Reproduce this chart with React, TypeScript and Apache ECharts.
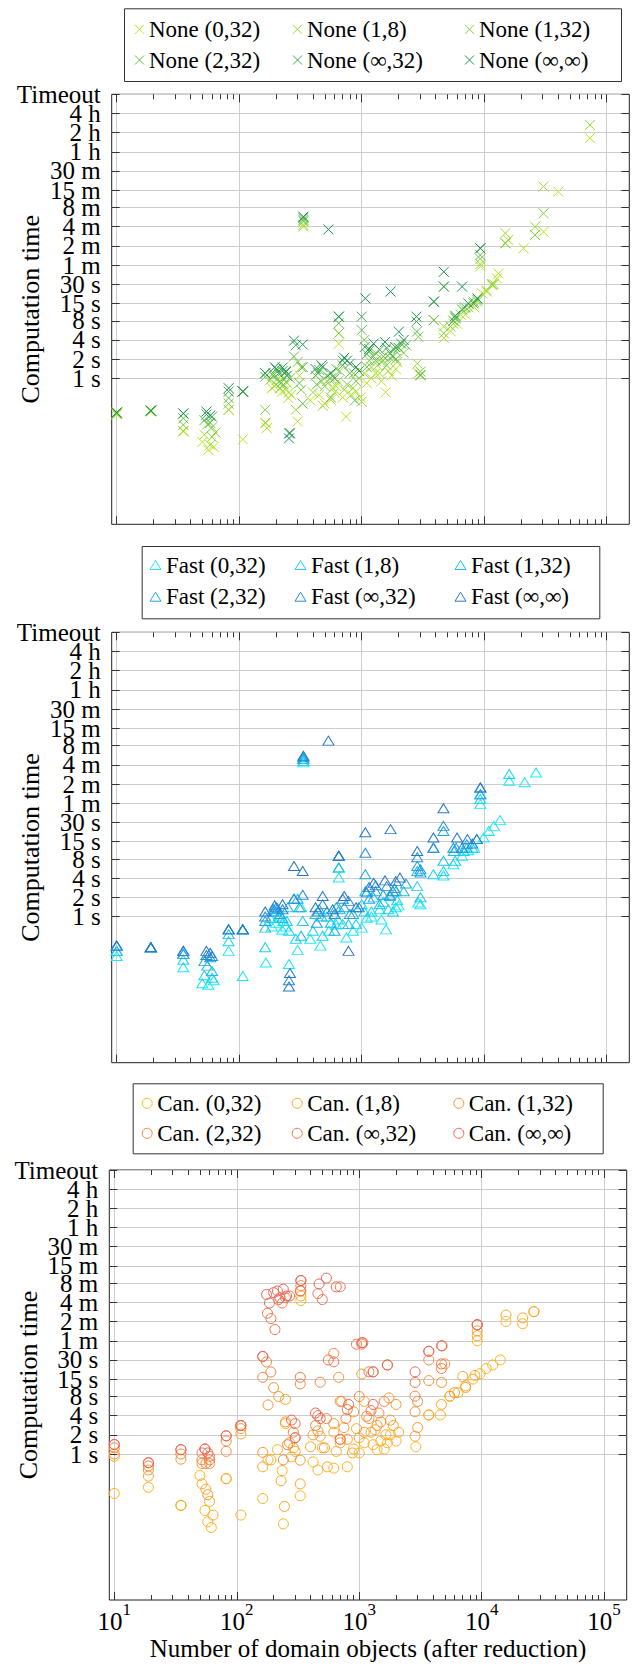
import React, { useEffect, useRef } from "react";
import * as echarts from "echarts";

const FONT = "Liberation Serif";

// ---- axis ticks / labels ----
const yTickValues = [1, 2, 4, 8, 15, 30, 60, 120, 240, 480, 900, 1800, 3600, 7200, 14400, 28800];
const yTickLabels = ["1 s", "2 s", "4 s", "8 s", "15 s", "30 s", "1 m", "2 m", "4 m", "8 m", "15 m", "30 m", "1 h", "2 h", "4 h", "Timeout"];
const xMajorTicks = [10, 100, 1000, 10000, 100000];
const xMinorTicks = [20, 30, 40, 50, 60, 70, 80, 90, 200, 300, 400, 500, 600, 700, 800, 900, 2000, 3000, 4000, 5000, 6000, 7000, 8000, 9000, 20000, 30000, 40000, 50000, 60000, 70000, 80000, 90000];
const configNames = ["(0,32)", "(1,8)", "(1,32)", "(2,32)", "(∞,32)", "(∞,∞)"];

const noneColors = ["#b5e61d", "#9bdc2f", "#7fd03e", "#5fbf49", "#3eab50", "#1e9252"];
const fastColors = ["#1de9f5", "#1ad4f0", "#19bfea", "#1fa9e2", "#2590d8", "#2a78cc"];
const canColors = ["#ffb21a", "#ffa41f", "#fb942e", "#f6843c", "#f1744a", "#ec6457"];

// ---- data: [domain objects, seconds] ----
const none032 = [[10,0.27],[19,0.3],[35,0.146],[50,0.1],[56,0.075],[62,0.084],[82,0.32],[107,0.11],[165,0.2],[168,0.165],[185,0.7],[195,0.75],[215,0.9],[225,0.62],[240,0.66],[252,0.49],[265,0.55],[300,0.21],[310,1.1],[334,240],[380,0.45],[450,0.55],[500,0.4],[560,0.46],[600,0.6],[620,0.75],[650,3.5],[700,0.5],[745,0.25],[820,0.55],[900,0.62],[980,0.5],[1100,0.84],[1200,1.0],[1300,1.2],[1450,0.9],[1570,0.6],[1750,1.1],[1900,1.4],[2900,1.2],[3020,1.1],[4680,4.3],[5300,5.5],[6000,7.2],[7000,10],[8300,13],[9300,57],[9600,21.6],[10500,24],[11600,29],[12700,37],[13100,44],[14900,132],[21000,110],[30500,200],[40300,855],[73000,5900]];
const none18 = [[10,0.28],[19,0.31],[35,0.15],[52,0.13],[60,0.12],[58,0.09],[82,0.32],[107,0.62],[163,0.2],[180,0.95],[200,0.8],[230,1.0],[245,0.85],[255,0.6],[290,0.32],[320,1.5],[334,255],[400,0.6],[480,0.37],[520,0.9],[580,0.7],[640,0.9],[650,5.1],[720,0.66],[850,0.7],[950,1.0],[1000,0.43],[1050,1.2],[1200,1.5],[1350,1.6],[1400,1.2],[1500,1.9],[1650,1.3],[1950,1.8],[2000,3.0],[2850,1.7],[3880,8.2],[4680,6.5],[5600,7.2],[6400,10],[7460,13],[8750,16],[9300,62],[10500,23],[12000,30],[14900,190],[15700,149],[26000,240],[30500,1024],[73000,9500]];
const none132 = [[10,0.28],[19,0.31],[35,0.185],[55,0.19],[60,0.17],[64,0.14],[82,0.4],[107,0.62],[163,0.32],[190,1.2],[202,0.94],[215,0.7],[230,0.79],[245,1.1],[300,1.8],[320,0.66],[334,290],[420,1.1],[470,0.9],[500,0.75],[560,1.0],[650,5.1],[660,1.3],[760,0.8],[860,1.2],[900,0.9],[1050,4],[1150,1.9],[1250,2.2],[1300,2.5],[1450,1.8],[1600,1.6],[1700,2.1],[1900,2.0],[2200,2.5],[2900,4.5],[3020,1.27],[4680,5.1],[5300,6.5],[5800,8.7],[6800,12.6],[8200,16],[9300,75],[11600,30],[14900,132],[26000,178],[30500,390]];
const none232 = [[10,0.29],[19,0.31],[35,0.235],[52,0.22],[58,0.2],[82,0.49],[107,0.62],[163,1.06],[190,1.1],[205,1.35],[220,0.85],[240,1.3],[260,1.0],[280,2.2],[310,0.84],[330,0.4],[334,306],[430,0.8],[450,1.35],[520,1.1],[560,0.5],[620,1.4],[650,7.3],[700,1.6],[800,1.2],[880,0.45],[1000,5.7],[1100,1.5],[1150,2.7],[1300,1.9],[1500,2.2],[1700,2.5],[1850,2.8],[2010,3.0],[2300,3.3],[2820,5.4],[3880,8.2],[4680,27.5],[5800,9],[7000,13],[8800,17],[9300,86]];
const noneInf32 = [[10,0.29],[19,0.31],[35,0.28],[54,0.27],[60,0.25],[82,0.62],[107,0.62],[163,1.2],[200,1.4],[210,1.2],[226,1.3],[245,1.1],[255,0.137],[290,3.3],[330,1.5],[334,330],[440,1.2],[480,1.5],[600,1.0],[650,9.3],[700,1.9],[800,1.7],[950,1.3],[1000,9.3],[1060,3.1],[1100,2.4],[1400,2.8],[1600,3.0],[1800,2.2],[2100,3.5],[2800,7.8],[3020,1.13],[3880,16],[4680,27.5],[5600,8.0],[6600,12],[8200,15],[9300,110]];
const noneInfInf = [[10,0.29],[19,0.31],[35,0.28],[54,0.3],[58,0.26],[82,0.7],[107,0.62],[163,1.2],[195,1.5],[226,1.47],[240,1.25],[255,0.114],[260,0.137],[280,3.9],[330,3.4],[334,345],[420,1.4],[535,218],[470,1.6],[560,1.2],[650,9.3],[720,2.1],[760,1.9],[900,1.5],[1070,18],[1150,2.9],[1250,3.5],[1550,3.7],[1720,23],[1880,3.1],[2010,5.4],[2200,4.0],[2800,9.3],[3880,16],[4680,47],[6600,27.5],[5800,9.6],[7400,15],[9300,110],[8800,18]];

const fast032 = [[10,0.24],[19,0.33],[35,0.16],[50,0.09],[56,0.085],[62,0.1],[82,0.29],[107,0.117],[165,0.19],[185,0.7],[200,0.8],[225,0.62],[240,0.7],[255,0.18],[300,0.3],[320,1.4],[334,262],[380,0.45],[460,0.35],[540,0.6],[620,0.75],[650,4.1],[750,0.47],[850,0.6],[1000,0.67],[1100,0.96],[1200,1.0],[1450,0.9],[1580,0.63],[1400,1.3],[1900,1.4],[2000,1.5],[2900,1.66],[3020,1.56],[4650,4.4],[5600,6.6],[6600,9],[7400,11],[8300,12],[9300,58],[9900,17.4],[10900,22],[12000,26.5],[13500,32.6],[16000,135],[21400,128],[26500,182]];
const fast18 = [[10,0.29],[19,0.33],[35,0.21],[52,0.12],[60,0.11],[82,0.41],[107,0.63],[163,0.33],[180,0.95],[210,1.0],[230,0.85],[245,0.85],[255,0.6],[290,0.45],[330,0.85],[334,275],[400,0.6],[480,0.5],[520,1.0],[640,0.9],[650,5.9],[700,0.76],[900,0.76],[1000,1.56],[1050,1.2],[1200,1.2],[1500,1.7],[1650,1.3],[1800,1.2],[1950,1.8],[2840,3.0],[3850,4.6],[4650,5.2],[5800,7.5],[6800,10.7],[8000,12],[9300,70],[16000,172]];
const fast132 = [[10,0.29],[19,0.33],[35,0.26],[55,0.17],[60,0.14],[82,0.53],[107,0.63],[163,0.67],[190,1.2],[200,1.2],[225,0.95],[250,1.4],[300,1.9],[320,0.5],[334,295],[420,1.1],[470,1.0],[560,0.8],[650,5.9],[660,1.3],[780,0.76],[850,1.1],[1070,2.5],[1250,2.0],[1400,1.56],[1700,2.1],[1900,2.5],[2200,2.5],[2840,5.2],[3020,2.0],[4650,7.5],[5650,10.7],[7200,12],[9300,83]];
const fast232 = [[10,0.35],[19,0.33],[35,0.26],[52,0.2],[58,0.23],[82,0.63],[107,0.63],[163,0.85],[190,1.3],[205,1.35],[215,1.1],[280,1.9],[310,1.4],[334,300],[430,0.8],[450,1.3],[520,1.2],[600,0.6],[620,1.4],[650,9.0],[720,1.4],[800,1.1],[1070,4.6],[1150,1.9],[1300,2.5],[1500,2.2],[1700,2.2],[1850,2.8],[2300,3.3],[2840,6.2],[3020,4.9],[3850,12],[4650,22],[5900,12],[7200,13.6],[8700,16.4],[9300,83]];
const fastInf32 = [[10,0.35],[19,0.33],[35,0.29],[54,0.25],[60,0.24],[82,0.63],[107,0.63],[163,1.0],[200,1.4],[226,1.3],[255,0.1],[280,1.9],[330,2.2],[334,320],[440,1.2],[480,1.56],[600,1.1],[650,9.0],[700,1.9],[780,1.76],[950,1.4],[1070,10],[1100,2.4],[1300,3.1],[1600,3.0],[1800,2.5],[2840,8.5],[3020,5.5],[3850,12],[4650,26.5],[5600,12],[6600,12],[8000,14],[9300,106]];
const fastInfInf = [[10,0.35],[19,0.33],[35,0.29],[54,0.29],[58,0.27],[82,0.63],[107,0.63],[163,1.2],[195,1.5],[226,1.56],[255,0.08],[260,0.13],[280,6.2],[330,5.2],[334,333],[420,1.4],[535,575],[480,2.1],[580,1.3],[650,9.0],[720,2.1],[780,0.29],[900,1.4],[1070,21],[1150,2.9],[1250,3.4],[1550,3.7],[1720,23.5],[1900,3.6],[2050,4.1],[2840,10.7],[3850,17.4],[4650,50],[6000,17.4],[7300,16.4],[9300,106],[8700,16.4]];

const can032 = [[10,0.24],[19,0.3],[35,0.156],[50,0.46],[55,0.13],[58,0.086],[62,0.07],[82,0.41],[108,0.11],[163,0.2],[180,0.81],[215,1.17],[235,0.55],[240,0.08],[250,3.0],[280,0.9],[330,0.22],[334,257],[420,0.75],[460,0.56],[500,1.25],[620,0.6],[650,1.1],[700,1.7],[800,0.63],[900,1.2],[1000,1.04],[1100,1.5],[1300,1.4],[1400,1.17],[1600,1.2],[1700,1.5],[1800,2.0],[2000,1.6],[2900,1.3],[3700,4.1],[4600,4.1],[5500,8.1],[6400,9.2],[7400,11.8],[8500,15],[9200,60],[9700,18.2],[10900,22],[12300,25],[14200,30],[15800,121],[21600,111],[26700,172]];
const can18 = [[10,0.92],[19,0.45],[35,0.156],[52,0.34],[56,0.28],[60,0.18],[64,0.11],[82,0.41],[108,2.06],[163,0.63],[190,0.81],[230,0.38],[245,0.15],[250,7.2],[290,1.25],[300,1.1],[330,0.34],[334,302],[400,1.3],[480,1.9],[550,0.63],[620,2.2],[700,1.5],[720,6.7],[880,1.04],[950,2.5],[1000,1.8],[1100,6.7],[1250,2.2],[1350,2.4],[1500,1.6],[1650,2.0],[1900,2.8],[2100,2.2],[2860,1.9],[3700,4.1],[4700,6],[5500,8.1],[7000,16.5],[8800,17.1],[9200,72],[15800,152],[21600,137],[26700,172]];
const can132 = [[10,1.0],[19,0.56],[35,0.83],[52,0.71],[58,0.23],[60,0.71],[82,1.1],[108,2.5],[163,1.06],[180,5.9],[200,11],[220,8],[250,3.2],[270,1.5],[300,1.8],[330,0.8],[334,363],[420,2.0],[460,2.3],[520,1.25],[620,3.0],[680,16],[750,2.6],[800,1.7],[900,4.6],[1050,18],[1100,2.2],[1200,3.6],[1400,2.8],[1500,3.2],[1750,7.6],[1800,3.4],[2000,6],[2860,4.6],[3000,2.6],[3700,14.2],[4700,13.3],[5000,26],[6000,9.2],[7400,11.1],[9200,86]];
const can232 = [[10,1.25],[19,0.65],[35,1.0],[52,0.81],[56,0.71],[60,0.92],[82,1.6],[108,2.8],[163,16],[175,28],[190,19.4],[240,0.81],[260,1.4],[290,2.2],[330,12.6],[334,440],[440,2.8],[480,13.4],[540,3.6],[620,38],[700,6.7],[780,3.6],[1000,8],[1050,53],[1150,3.9],[1300,19.5],[1450,4.4],[1600,6.7],[2860,8.1],[3000,6.7],[3700,30],[4700,22],[4750,50],[9200,107]];
const canInf32 = [[10,1.41],[19,0.73],[35,1.17],[52,1.04],[55,1.2],[60,0.81],[82,1.93],[108,2.8],[163,34],[178,162],[190,134],[205,90],[220,266],[235,235],[250,284],[270,302],[300,3.0],[330,16],[334,530],[460,330],[460,4.0],[500,266],[560,30],[620,28],[700,422],[800,5.0],[950,53],[1070,56],[1200,19.5],[1250,4.8],[1700,25],[2860,13.3],[3700,41],[4700,26],[9200,107]];
const canInfInf = [[10,1.41],[19,0.73],[35,1.17],[55,1.2],[58,1.04],[82,1.93],[108,2.8],[163,34],[175,320],[185,235],[200,342],[215,363],[225,284],[240,388],[255,302],[280,3.4],[300,1.8],[334,530],[330,363],[440,4.4],[470,468],[540,577],[480,3.6],[650,422],[700,1.7],[820,6.0],[1050,56],[1300,19.5],[1300,6.0],[1700,25],[2860,19.5],[3700,41],[4700,50],[9200,107]];

const X_MIN = 9.103;
const X_MAX = 152900;
const Y_MIN = 0.0051;
const Y_MAX = 28803;

const crossPath = "path://M0 0L10 10M10 0L0 10";

const panels = [
  { prefix: "None", symbol: crossPath, size: 10, icon: [9, 9], colors: noneColors, data: [none032, none18, none132, none232, noneInf32, noneInfInf] },
  { prefix: "Fast", symbol: "triangle", size: [11, 9], icon: [11, 9], colors: fastColors, data: [fast032, fast18, fast132, fast232, fastInf32, fastInfInf] },
  { prefix: "Can.", symbol: "circle", size: 10, icon: [10, 10], colors: canColors, data: [can032, can18, can132, can232, canInf32, canInfInf] },
];

const gridBoxes = [
  { left: 111.7, top: 94.3, width: 517.6, height: 430 },
  { left: 111.7, top: 632.3, width: 517.6, height: 430.4 },
  { left: 109.3, top: 1170, width: 517.4, height: 430 },
];

const legendBoxes = [
  { x: 124, y: 8.3, w: 497, h: 72.7, cols: [139, 297, 469], rows: [29.3, 60] },
  { x: 141.7, y: 546, w: 457.6, h: 72.3, cols: [155, 300, 460], rows: [565, 596.7] },
  { x: 132.7, y: 1083.3, w: 470, h: 70, cols: [146.7, 296.7, 458.3], rows: [1103.3, 1133.3] },
];

// labels split over two axes so that no neighbouring labels sit on one axis
const yLabelValuesA = yTickValues.filter((_, i) => i % 2 === 0);
const yLabelValuesB = yTickValues.filter((_, i) => i % 2 === 1);

function yLabel(v: number): string {
  let best = 0;
  for (let i = 1; i < yTickValues.length; i++) {
    if (Math.abs(Math.log(v / yTickValues[i])) < Math.abs(Math.log(v / yTickValues[best]))) best = i;
  }
  return yTickLabels[best];
}

function buildOption() {
  const grid: any[] = [];
  const xAxis: any[] = [];
  const yAxis: any[] = [];
  const series: any[] = [];
  const legend: any[] = [];
  const graphic: any[] = [];
  const tickLine = { color: "#333", width: 1 };

  panels.forEach((p, pi) => {
    const g = gridBoxes[pi];
    grid.push({
      ...g, show: true, borderColor: "#222", borderWidth: 1, backgroundColor: "transparent",
      containLabel: false, outerBoundsMode: "none",
    });
    const isLast = pi === panels.length - 1;
    const xBase = {
      type: "log", logBase: 10, min: X_MIN, max: X_MAX, gridIndex: pi,
      axisLine: { show: false, onZero: false }, splitLine: { show: false }, axisLabel: { show: false },
      axisPointer: { show: false },
    };
    xAxis.push({
      ...xBase, position: "bottom",
      axisTick: { show: true, inside: true, length: 8, customValues: xMajorTicks, lineStyle: tickLine },
      splitLine: { show: true, lineStyle: { color: "#cdcdcd", width: 1 } },
      axisLabel: isLast ? {
        show: true, customValues: xMajorTicks, margin: 7, showMinLabel: true, showMaxLabel: true,
        fontFamily: FONT,
        formatter: (v: number) => `{b|10}{s|${Math.round(Math.log10(v))}}`,
        rich: {
          b: { fontSize: 25, fontFamily: FONT, color: "#000", lineHeight: 28 },
          s: { fontSize: 17, fontFamily: FONT, color: "#000", lineHeight: 28, padding: [0, 0, 24, 0] },
        },
      } : { show: false },
      name: isLast ? "Number of domain objects (after reduction)" : "",
      nameLocation: "middle", nameGap: 36, nameMoveOverlap: false,
      nameTextStyle: { fontSize: 25, fontFamily: FONT, color: "#000" },
    });
    xAxis.push({ ...xBase, position: "bottom", axisTick: { show: true, inside: true, length: 5, customValues: xMinorTicks, lineStyle: tickLine } });
    xAxis.push({ ...xBase, position: "top", axisTick: { show: true, inside: true, length: 8, customValues: xMajorTicks, lineStyle: tickLine } });
    xAxis.push({ ...xBase, position: "top", axisTick: { show: true, inside: true, length: 5, customValues: xMinorTicks, lineStyle: tickLine } });

    const yBase = {
      type: "log", logBase: 2, min: Y_MIN, max: Y_MAX, gridIndex: pi,
      axisLine: { show: false, onZero: false }, axisPointer: { show: false },
    };
    const yLabelStyle = {
      show: true, formatter: (v: number) => yLabel(v), margin: 11,
      showMinLabel: true, showMaxLabel: true, hideOverlap: false,
      fontSize: 25, lineHeight: 17, fontFamily: FONT, color: "#000",
    };
    yAxis.push({
      ...yBase, position: "left",
      axisTick: { show: true, inside: true, length: 8, customValues: yTickValues, lineStyle: tickLine },
      axisLabel: { ...yLabelStyle, customValues: yLabelValuesA },
      splitLine: { show: true, lineStyle: { color: "#cdcdcd", width: 1 } },
      name: "Computation time", nameLocation: "middle", nameGap: 68, nameMoveOverlap: false,
      nameTextStyle: { fontSize: 26, fontFamily: FONT, color: "#000" },
    });
    yAxis.push({
      ...yBase, position: "left",
      axisTick: { show: false, customValues: yLabelValuesB },
      axisLabel: { ...yLabelStyle, customValues: yLabelValuesB },
      splitLine: { show: false },
    });
    yAxis.push({
      ...yBase, position: "right",
      axisTick: { show: true, inside: true, length: 8, customValues: yTickValues, lineStyle: tickLine },
      axisLabel: { show: false }, splitLine: { show: false },
    });

    const names = configNames.map((c) => `${p.prefix} ${c}`);
    p.data.forEach((d, si) => {
      series.push({
        type: "scatter", name: names[si], xAxisIndex: pi * 4, yAxisIndex: pi * 3,
        data: d, symbol: p.symbol, symbolSize: p.size,
        itemStyle: { color: "rgba(0,0,0,0)", borderColor: p.colors[si], borderWidth: 1, opacity: 1 },
        emphasis: { disabled: true }, silent: true, z: 3 + si,
      });
    });

    const lb = legendBoxes[pi];
    graphic.push({
      type: "rect", left: lb.x, top: lb.y, silent: true, z: 0,
      shape: { width: lb.w, height: lb.h },
      style: { fill: "#fff", stroke: "#333", lineWidth: 1 },
    });
    for (let c = 0; c < 3; c++) {
      legend.push({
        orient: "vertical", left: lb.cols[c] - p.icon[0] / 2, top: lb.rows[0] - 12,
        itemWidth: p.icon[0], itemHeight: p.icon[1], itemGap: lb.rows[1] - lb.rows[0] - 24,
        padding: 0, selectedMode: false, z: 5,
        itemStyle: { borderWidth: 1 },
        textStyle: { fontSize: 23, lineHeight: 24, fontFamily: FONT, color: "#000" },
        data: [names[c], names[c + 3]],
      });
    }
  });

  return {
    animation: false, backgroundColor: "#fff",
    textStyle: { fontFamily: FONT },
    grid, xAxis, yAxis, series, legend, graphic,
  };
}

export default function App() {
  const ref = useRef<HTMLDivElement>(null);
  useEffect(() => {
    const chart = echarts.init(ref.current!, null, { renderer: "svg" });
    chart.setOption(buildOption() as any);
    return () => chart.dispose();
  }, []);
  return <div ref={ref} style={{ position: "absolute", left: 0, top: 0, width: 636, height: 1676 }} />;
}
